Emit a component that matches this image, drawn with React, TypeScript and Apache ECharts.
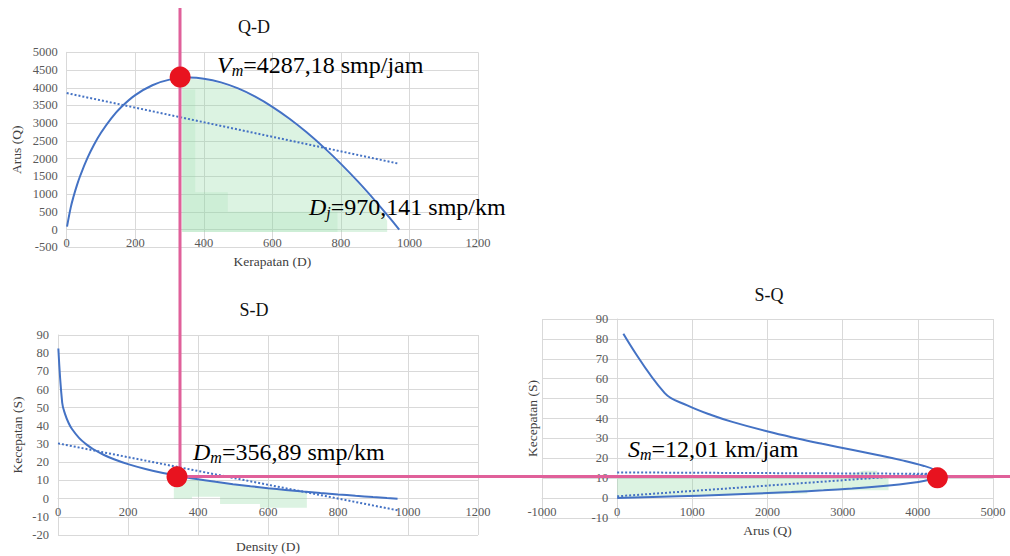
import React, { useEffect, useRef } from "react";
import * as echarts from "echarts";

const FONT = "'Liberation Serif', 'Times New Roman', serif";

// Density (smp/km), speed (km/jam), flow (smp/jam)
const densityD = [1, 12, 20, 30, 40, 60, 80, 100, 130, 160, 200, 250, 300, 356.89, 400, 450, 500, 550, 600, 650, 700, 750, 800, 850, 900, 940, 970.14];
const speedS = [82.6, 52.75, 46.62, 41.75, 38.29, 33.43, 29.97, 27.29, 24.14, 21.65, 18.97, 16.29, 14.1, 12.01, 10.64, 9.23, 7.96, 6.82, 5.77, 4.81, 3.92, 3.09, 2.32, 1.59, 0.9, 0.38, 0];
const flowQ = [82.6, 633.0, 932.4, 1252.5, 1531.8, 2005.6, 2397.7, 2729.0, 3138.0, 3463.3, 3793.2, 4071.6, 4228.8, 4287.2, 4256.4, 4152.2, 3980.7, 3749.2, 3463.2, 3126.5, 2744.0, 2318.5, 1853.4, 1350.5, 811.8, 357.0, 0];

// dotted linear trend lines [x, y]
const trendQD = [[0, 3850], [970, 1856]];
const trendSD = [[0, 30.4], [970, -6.4]];
const trendSQa = [[0, 12.9], [4200, 12.2]];
const trendSQb = [[0, 0.9], [4200, 12.2]];

// highlighted points
const pointQD = [[331, 4300]];
const pointSD = [[340, 12]];
const pointSQ = [[4260, 10.2]];

// light green highlight regions (data units)
const greenQD = [
  [[336, -70], [336, 4200], [360, 4250], [400, 4225], [450, 4120], [500, 3950], [550, 3720], [600, 3430], [650, 3090], [700, 2710], [750, 2280], [800, 1810], [850, 1300], [900, 760], [935, 250], [935, -70]],
  [[338, 3950], [375, 3950], [375, 1050], [470, 1050], [470, 500], [790, 500], [790, -70], [338, -70]],
];
const greenSD = [
  [[331, 0], [331, 8], [383, 10.6], [463, 8.6], [577, 6.3], [711, 3.8], [711, -5], [577, -5], [577, -3], [463, -3], [463, 1], [383, 1], [383, 0]],
];
const greenSQ = [
  [[0, 0.3], [0, 10.2], [1000, 10.5], [2000, 10.7], [3000, 11], [3270, 13.8], [3460, 13.8], [3460, 11.5], [3610, 11.3], [3610, 4], [2530, 4], [2530, 2.3], [1000, 1], [0, 0.3]],
];

const BLUE = "#4472C4";
const GRID = "#d9d9d9";
const GREEN = "rgba(138,215,158,0.3)";
const GREEN_INNER = "rgba(138,215,158,0.18)";
const PINK = "#E0609A";
const RED = "#E8131F";

function pairs(xs: number[], ys: number[]) {
  return xs.map((x, i) => [x, ys[i]]);
}

function valueAxis(min: number, max: number, interval: number, gridIndex: number, name: string, nameGap: number, vertical: boolean, offset: number) {
  return {
    type: "value",
    gridIndex,
    min,
    max,
    interval,
    name,
    offset,
    nameLocation: "middle",
    nameGap,
    nameRotate: vertical ? 90 : 0,
    nameTextStyle: { fontFamily: FONT, fontSize: 13.5, color: "#404040" },
    axisLine: { show: true, onZero: false, lineStyle: { color: GRID, width: 1 } },
    axisTick: { show: false },
    splitLine: { show: true, lineStyle: { color: GRID, width: 1 } },
    axisLabel: {
      fontFamily: FONT,
      fontSize: 12.5,
      color: "#595959",
      margin: vertical ? 9 : 7,
      formatter: (v: number) => String(v),
    },
  };
}

function greenSeries(polys: number[][][], idx: number) {
  return {
    type: "custom",
    xAxisIndex: idx,
    yAxisIndex: idx,
    z: 1,
    silent: true,
    data: polys.map((_, i) => [i]),
    encode: { x: -1, y: -1 },
    renderItem: (params: any, api: any) => {
      const poly = polys[params.dataIndex];
      return {
        type: "polygon",
        shape: { points: poly.map((p) => api.coord(p)) },
        style: { fill: params.dataIndex === 0 ? GREEN : GREEN_INNER, stroke: "none" },
      };
    },
  };
}

function curve(data: number[][], idx: number) {
  return {
    type: "line",
    xAxisIndex: idx,
    yAxisIndex: idx,
    data,
    smooth: 0.4,
    showSymbol: false,
    symbol: "none",
    z: 3,
    lineStyle: { color: BLUE, width: 2 },
  };
}

function trend(data: number[][], idx: number) {
  return {
    type: "line",
    xAxisIndex: idx,
    yAxisIndex: idx,
    data,
    showSymbol: false,
    symbol: "none",
    z: 6,
    lineStyle: { color: BLUE, width: 2, type: [2, 2] },
  };
}

function dot(data: number[][], idx: number) {
  return {
    type: "scatter",
    xAxisIndex: idx,
    yAxisIndex: idx,
    data,
    symbol: "circle",
    symbolSize: 21,
    z: 10,
    itemStyle: { color: RED, opacity: 1 },
  };
}

const annRich = (grey: string) => ({
  i: { fontFamily: FONT, fontSize: 24, fontStyle: "italic", lineHeight: 27, color: grey },
  s: { fontFamily: FONT, fontSize: 16, fontStyle: "italic", lineHeight: 16, verticalAlign: "bottom", color: grey },
  g: { fontFamily: FONT, fontSize: 24, lineHeight: 27, color: grey },
  n: { fontFamily: FONT, fontSize: 24, lineHeight: 27, color: "#111" },
});

function annotation(x: number, y: number, text: string, grey = "#111") {
  return {
    type: "text",
    x,
    y,
    z: 20,
    silent: true,
    style: { text, rich: annRich(grey), verticalAlign: "top", align: "left" },
  };
}

const titleStyle = { fontFamily: FONT, fontSize: 18, fontWeight: "normal", color: "#111" };

const option = {
  animation: false,
  backgroundColor: "#ffffff",
  textStyle: { fontFamily: FONT },
  title: [
    { text: "Q-D", left: 249, top: 13, textAlign: "center", textStyle: titleStyle },
    { text: "S-D", left: 249, top: 296, textAlign: "center", textStyle: titleStyle },
    { text: "S-Q", left: 764, top: 281, textAlign: "center", textStyle: titleStyle },
  ],
  grid: [
    { left: 66.7, top: 52.3, width: 411.3, height: 195, containLabel: false, outerBoundsMode: "none" },
    { left: 58, top: 335, width: 420, height: 200, containLabel: false, outerBoundsMode: "none" },
    { left: 542, top: 319, width: 451, height: 199, containLabel: false, outerBoundsMode: "none" },
  ],
  xAxis: [
    valueAxis(0, 1200, 200, 0, "Kerapatan (D)", 25, false, -195 / 11),
    valueAxis(0, 1200, 200, 1, "Density (D)", 41, false, -200 * 20 / 110),
    valueAxis(-1000, 5000, 1000, 2, "Arus (Q)", 25, false, -19.9),
  ],
  yAxis: [
    valueAxis(-500, 5000, 500, 0, "Arus (Q)", 43, true, 0),
    valueAxis(-20, 90, 10, 1, "Kecepatan (S)", 34, true, 0),
    valueAxis(-10, 90, 10, 2, "Kecepatan (S)", 78, true, -451 / 6),
  ],
  graphic: [
    { type: "line", z: 8, silent: true, shape: { x1: 180, y1: 8, x2: 180, y2: 478 }, style: { stroke: PINK, lineWidth: 3 } },
    { type: "line", z: 8, silent: true, shape: { x1: 180, y1: 476.5, x2: 1010, y2: 476.5 }, style: { stroke: PINK, lineWidth: 3 } },
    annotation(217, 51, "{i|V}{s|m}{g|=4287,18 smp/jam}"),
    annotation(309, 193, "{i|D}{s|j}{g|=970,}{n|141 smp/km}", "#7f8d82"),
    annotation(193, 438, "{i|D}{s|m}{g|=356,89 smp/km}"),
    annotation(628, 435, "{i|S}{s|m}{g|=12,01 km/jam}"),
  ],
  series: [
    greenSeries(greenQD, 0),
    curve(pairs(densityD, flowQ), 0),
    trend(trendQD, 0),
    dot(pointQD, 0),
    greenSeries(greenSD, 1),
    curve(pairs(densityD, speedS), 1),
    trend(trendSD, 1),
    dot(pointSD, 1),
    greenSeries(greenSQ, 2),
    curve(pairs(flowQ, speedS), 2),
    trend(trendSQa, 2),
    trend(trendSQb, 2),
    dot(pointSQ, 2),
  ],
};

export default function App() {
  const ref = useRef<HTMLDivElement>(null);
  useEffect(() => {
    if (!ref.current) return;
    const chart = echarts.init(ref.current, null, { renderer: "svg" });
    chart.setOption(option as any);
    return () => chart.dispose();
  }, []);
  return <div ref={ref} style={{ position: "fixed", left: 0, top: 0, width: 1010, height: 556, background: "#fff" }} />;
}
